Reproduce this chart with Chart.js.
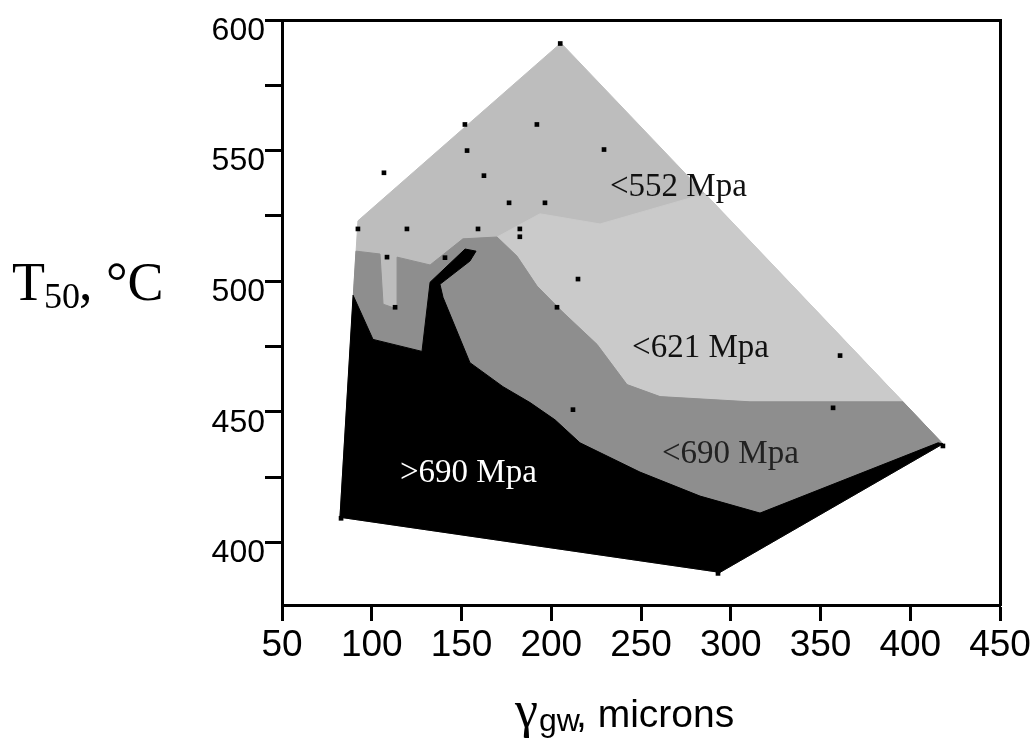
<!DOCTYPE html>
<html><head><meta charset="utf-8">
<script src="https://cdn.jsdelivr.net/npm/chart.js@4.4.1/dist/chart.umd.min.js"></script>
<style>html,body{margin:0;padding:0;background:#fff}#wrap{width:1036px;height:745px;position:relative}</style>
</head><body><div id="wrap"><canvas id="c"></canvas></div>
<script>
// ---- data (grain size in microns vs T50 in degC) ----
const xTickVals = [50, 100, 150, 200, 250, 300, 350, 400, 450];
const yTickVals = [400, 425, 450, 475, 500, 525, 550, 575, 600];

// outer hull of the contoured surface (<552 Mpa region)
const hullX = [82.3, 92.3, 205.4, 418.2, 294.0, 82.3];
const hullY = [409.6, 523.1, 591.2, 437.7, 388.5, 409.6];

// <621 Mpa region
const r621X = [169.8, 193.7, 227.2, 285.7, 396.0, 310.7, 260.6, 242.2, 225.5, 206.5, 192.1, 180.9, 169.8];
const r621Y = [516.9, 525.8, 521.9, 533.5, 453.8, 453.8, 455.8, 460.4, 475.8, 488.1, 498.1, 509.6, 516.9];

// <690 Mpa region
const r690X = [91.2, 104.6, 106.3, 114.6, 114.1, 132.5, 150.8, 169.8, 180.9, 192.1, 206.5, 225.5, 242.2, 260.6, 310.7, 396.0, 418.2, 294.0, 82.3, 91.2];
const r690Y = [511.5, 510.4, 491.2, 489.2, 509.2, 506.2, 516.2, 516.9, 509.6, 498.1, 488.1, 475.8, 460.4, 455.8, 453.8, 453.8, 437.7, 388.5, 409.6, 511.5];

// >690 Mpa region
const r700X = [82.3, 89.6, 100.7, 128.0, 132.5, 152.0, 158.1, 154.7, 138.0, 139.7, 154.7, 173.1, 188.2, 202.1, 216.0, 249.4, 282.9, 316.3, 415.5, 418.2, 294.0, 82.3];
const r700Y = [409.6, 494.6, 477.7, 473.1, 499.6, 512.3, 511.5, 507.7, 498.8, 493.8, 468.8, 459.6, 453.5, 446.9, 438.1, 426.9, 417.7, 411.2, 438.1, 437.7, 388.5, 409.6];

// measured samples
const sampleX = [205, 151.9, 153.1, 106.8, 162.5, 176.5, 196.5, 192, 229.4, 92.3, 119.6, 159.2, 182.5, 182.5, 108.5, 140.8, 214.9, 203.2, 113, 212.1, 360.9, 357, 418.2, 292.9, 82.9];
const sampleY = [591, 560, 550, 541.5, 540.4, 530, 530, 560, 550.4, 520, 520, 520, 520, 517, 509.2, 509, 500.8, 490, 490, 450.8, 471.5, 451.5, 436.9, 388.1, 409.2];

// region labels
const regionLabels = ['<552 Mpa', '<621 Mpa', '<690 Mpa', '>690 Mpa'];
const regionLabelX = [232.7, 245, 261.7, 115.7];
const regionLabelY = [532.7, 470.8, 430.4, 423.1];

const pts = (xs, ys) => xs.map((x, i) => ({x: x, y: ys[i]}));

const poly = (xs, ys, color, order) => ({
  data: pts(xs, ys), showLine: true, fill: 'shape', tension: 0,
  backgroundColor: color, borderColor: color, borderWidth: 1,
  pointRadius: 0, pointHoverRadius: 0, order: order
});

const textPlugin = {
  id: 'texts',
  afterDatasetsDraw(chart) {
    const ctx = chart.ctx, xs = chart.scales.x, ys = chart.scales.y;
    ctx.save();
    ctx.textAlign = 'left';
    ctx.textBaseline = 'alphabetic';
    const labelColors = ['#111', '#111', '#222', '#fff'];
    ctx.font = '33px "Liberation Serif", "Times New Roman", serif';
    regionLabels.forEach((t, i) => {
      ctx.fillStyle = labelColors[i];
      ctx.fillText(t, xs.getPixelForValue(regionLabelX[i]), ys.getPixelForValue(regionLabelY[i]));
    });
    // y axis title (horizontal)
    ctx.fillStyle = '#000';
    ctx.font = '54px "Liberation Serif", serif';
    ctx.fillText('T', 12, 300);
    ctx.font = '36px "Liberation Serif", serif';
    ctx.fillText('50', 44, 308);
    ctx.font = '54px "Liberation Serif", serif';
    ctx.fillText(', °C', 79, 300);
    // x axis title
    ctx.font = '52px "Liberation Serif", serif';
    ctx.fillText('γ', 515, 727);
    ctx.font = '32px "Liberation Sans", Arial, sans-serif';
    ctx.fillText('gw', 539, 731);
    ctx.font = '39px "Liberation Sans", Arial, sans-serif';
    ctx.fillText(', microns', 576, 727);
    ctx.restore();
  }
};

new Chart(document.getElementById('c'), {
  type: 'scatter',
  data: {
    datasets: [
      {data: pts(sampleX, sampleY), pointStyle: 'rect', pointRadius: 3.3, backgroundColor: '#000', borderWidth: 0, order: 1},
      poly(r700X, r700Y, '#000000', 2),
      poly(r690X, r690Y, '#8e8e8e', 3),
      poly(r621X, r621Y, '#cacaca', 4),
      poly(hullX, hullY, '#bdbdbd', 5)
    ]
  },
  options: {
    responsive: true, maintainAspectRatio: false, devicePixelRatio: 1, animation: false,
    layout: {padding: {left: 0, right: 36, top: 20, bottom: 0}},
    plugins: {legend: {display: false}, tooltip: {enabled: false}},
    scales: {
      x: {
        type: 'linear', position: 'bottom', min: 50, max: 450,
        afterBuildTicks: s => { s.ticks = xTickVals.map(v => ({value: v})); },
        afterFit: s => { s.height = 140; },
        grid: {drawOnChartArea: false, drawTicks: true, tickLength: 16, tickWidth: 3, tickColor: '#000'},
        border: {display: true, color: '#000', width: 3},
        ticks: {color: '#000', font: {family: "'Liberation Sans', Arial, sans-serif", size: 37}, padding: 3, maxRotation: 0, autoSkip: false, callback: v => String(v)}
      },
      y: {
        type: 'linear', position: 'left', min: 376, max: 600,
        afterBuildTicks: s => { s.ticks = yTickVals.map(v => ({value: v})); },
        afterFit: s => { s.width = 282; },
        grid: {drawOnChartArea: false, drawTicks: true, tickLength: 17, tickWidth: 3, tickColor: '#000'},
        border: {display: true, color: '#000', width: 3},
        ticks: {color: '#000', font: {family: "'Liberation Sans', Arial, sans-serif", size: 32}, padding: 0, labelOffset: 11, autoSkip: false, callback: v => (v % 50 === 0 ? String(v) : '')}
      },
      x2: {
        type: 'linear', position: 'top', min: 50, max: 450,
        afterFit: s => { s.height = 0; },
        ticks: {display: false}, grid: {drawOnChartArea: false, drawTicks: false},
        border: {display: true, color: '#000', width: 3}
      },
      y2: {
        type: 'linear', position: 'right', min: 376, max: 600,
        afterFit: s => { s.width = 0; },
        ticks: {display: false}, grid: {drawOnChartArea: false, drawTicks: false},
        border: {display: true, color: '#000', width: 3}
      }
    }
  },
  plugins: [textPlugin]
});
</script>
</body></html>
